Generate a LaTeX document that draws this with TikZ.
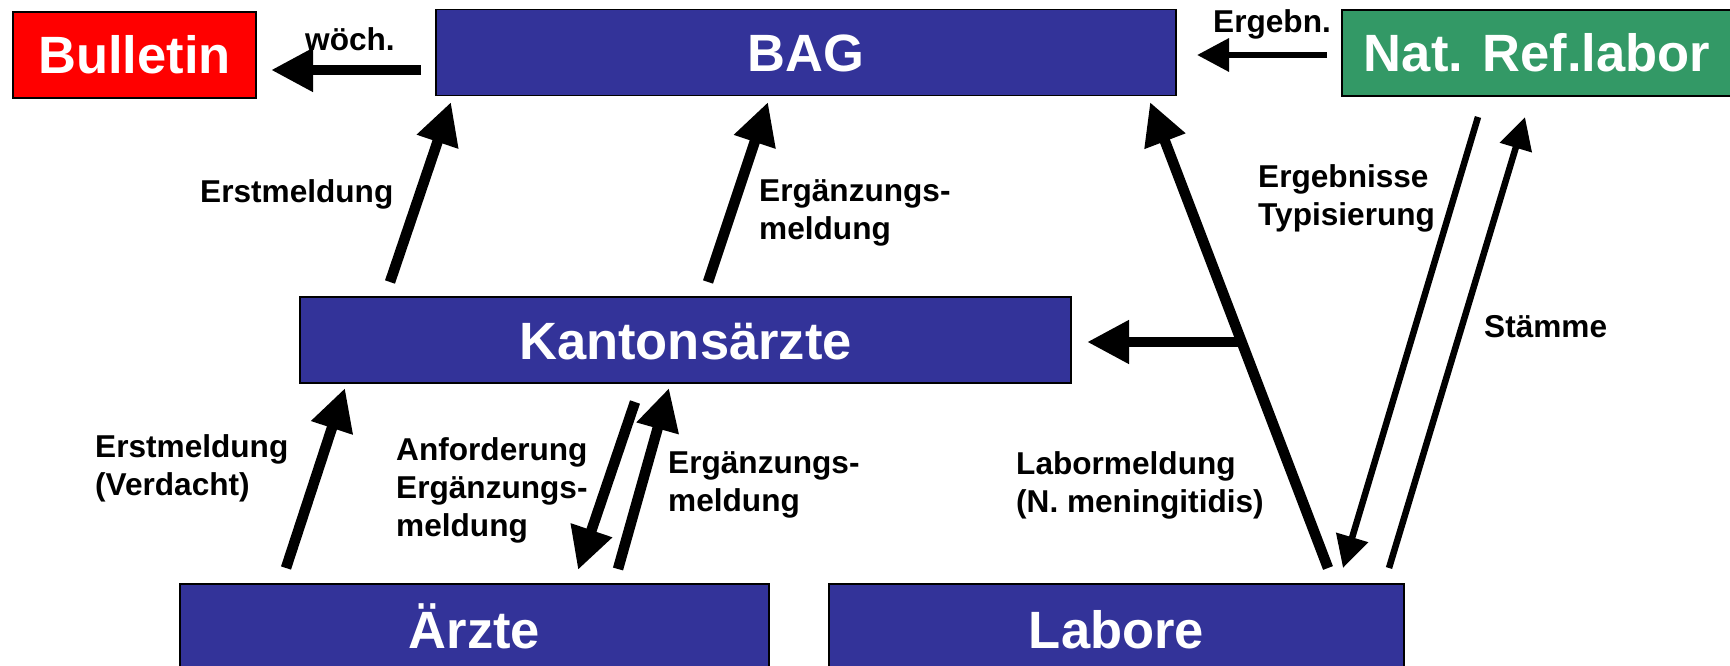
\documentclass[tikz,border=0pt]{standalone}
\usepackage{fontspec}
\setmainfont{Liberation Sans}
\usetikzlibrary{arrows.meta}
\definecolor{boxblue}{HTML}{333399}
\definecolor{boxred}{HTML}{FF0000}
\definecolor{boxgreen}{HTML}{339966}
\newcommand\labtwo[2]{\vtop{\hbox{#1}\hbox{#2}}}
\newcommand\labthree[3]{\vtop{\hbox{#1}\hbox{#2}\hbox{#3}}}
\tikzset{
  box/.style={draw=black, line width=1.5pt, text=white, inner sep=0pt,
    font=\fontsize{52.5}{60}\selectfont\bfseries, text height=38pt, text depth=0pt,
    minimum height=86pt, anchor=center},
  lab/.style={inner sep=0pt, anchor=base west, font=\fontsize{31.6}{38}\selectfont\bfseries},
  thickarrow/.style={line width=10.5pt, -{Triangle[length=42pt,width=41pt]}},
  thinarrow/.style={line width=6.5pt, -{Triangle[length=32pt,width=32pt]}}
}
\begin{document}
\begin{tikzpicture}[x=1pt,y=-1pt]
\useasboundingbox (0,0) rectangle (1730,666);
% boxes
\node[box, fill=boxred,   minimum width=243pt] (bull) at (134.5,55)  {Bulletin};
\node[box, fill=boxblue,  minimum width=740pt] (bag)  at (806,52.5)  {BAG};
\node[box, fill=boxgreen, minimum width=390pt] (ref)  at (1537,53)   {Nat. Ref.labor};
\node[box, fill=boxblue,  minimum width=771pt] (kant) at (685.5,340) {Kantonsärzte};
\node[box, fill=boxblue,  minimum width=589pt, minimum height=90pt] (aerzte) at (474.5,629) {Ärzte};
\node[box, fill=boxblue,  minimum width=575pt, minimum height=90pt] (labore) at (1116.5,629) {Labore};
% connector end points
\coordinate (bag-w)    at (421,70);
\coordinate (bull-e)   at (271,70);
\coordinate (ref-w)    at (1327,55);
\coordinate (bag-e)    at (1197,55);
\coordinate (kant-n1)  at (390,282);
\coordinate (bag-s1)   at (451,102);
\coordinate (kant-n2)  at (708,282);
\coordinate (bag-s2)   at (768,102);
\coordinate (lab-n1)   at (1328,568);
\coordinate (bag-s3)   at (1150,102);
\coordinate (branch)   at (1240,342);
\coordinate (kant-e)   at (1087,342);
\coordinate (ref-s1)   at (1478,117);
\coordinate (lab-n2)   at (1343,568);
\coordinate (lab-n3)   at (1389,568);
\coordinate (ref-s2)   at (1525,117);
\coordinate (aer-n1)   at (286,568);
\coordinate (kant-s1)  at (345,388);
\coordinate (kant-s2)  at (635,402);
\coordinate (aer-n2)   at (578,570);
\coordinate (aer-n3)   at (618,569);
\coordinate (kant-s3)  at (669,388);
% connectors
\draw[thickarrow] (bag-w) -- (bull-e);
\draw[thinarrow]  (ref-w) -- (bag-e);
\draw[thickarrow] (kant-n1) -- (bag-s1);
\draw[thickarrow] (kant-n2) -- (bag-s2);
\draw[thickarrow] (lab-n1) -- (bag-s3);
\draw[thickarrow] (branch) -- (kant-e);
\draw[thinarrow]  (ref-s1) -- (lab-n2);
\draw[thinarrow]  (lab-n3) -- (ref-s2);
\draw[thickarrow] (aer-n1) -- (kant-s1);
\draw[thickarrow] (kant-s2) -- (aer-n2);
\draw[thickarrow] (aer-n3) -- (kant-s3);
% labels
\node[lab] (l-woch)  at (305,51)   {wöch.};
\node[lab] (l-ergn)  at (1213,33)  {Ergebn.};
\node[lab] (l-erst)  at (200,202)  {Erstmeldung};
\node[lab] (l-erg1)  at (759,201)  {\labtwo{Ergänzungs-}{meldung}};
\node[lab] (l-typ)   at (1258,187) {\labtwo{Ergebnisse}{Typisierung}};
\node[lab] (l-staem) at (1484,337) {Stämme};
\node[lab] (l-labm)  at (1016,474) {\labtwo{Labormeldung}{(N. meningitidis)}};
\node[lab] (l-verd)  at (95,457)   {\labtwo{Erstmeldung}{(Verdacht)}};
\node[lab] (l-anf)   at (396,460)  {\labthree{Anforderung}{Ergänzungs-}{meldung}};
\node[lab] (l-erg2)  at (668,473)  {\labtwo{Ergänzungs-}{meldung}};
\end{tikzpicture}
\end{document}
